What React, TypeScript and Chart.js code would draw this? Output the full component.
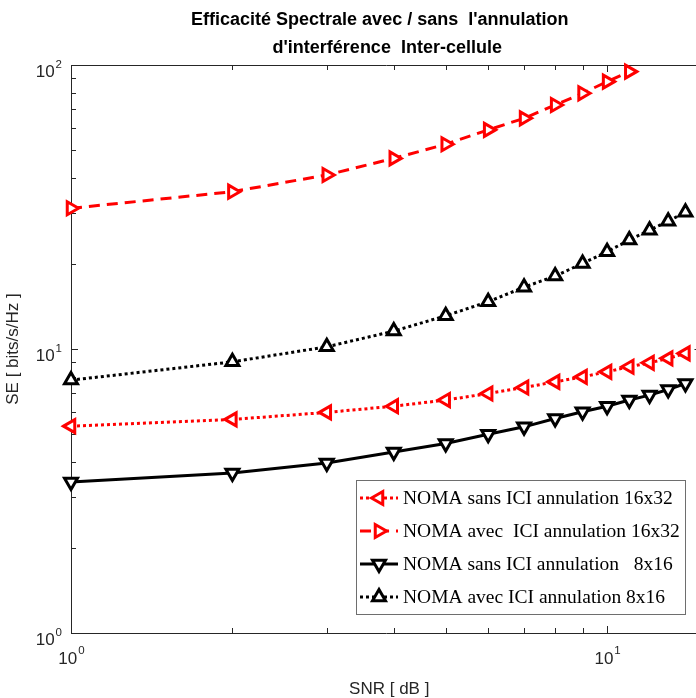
import React, { useEffect, useRef } from "react";
import { Chart, registerables } from "chart.js";
Chart.register(...registerables);

// ---------- data ----------
const snrFull = [1, 2, 3, 4, 5, 6, 7, 8, 9, 10, 11, 12, 13, 14];
const snrShort = [1, 2, 3, 4, 5, 6, 7, 8, 9, 10, 11];
const seSans16x32 = [5.35, 5.65, 5.98, 6.29, 6.61, 6.97, 7.32, 7.66, 7.98, 8.31, 8.66, 8.94, 9.27, 9.65];
const seAvec16x32 = [31.3, 35.8, 41.0, 46.9, 52.6, 59.1, 64.9, 72.3, 79.5, 87.4, 94.8];
const seSans8x16 = [3.4, 3.66, 3.97, 4.34, 4.65, 5.01, 5.32, 5.69, 6.01, 6.29, 6.61, 6.88, 7.2, 7.56];
const seAvec8x16 = [7.77, 9.01, 10.18, 11.56, 13.09, 14.67, 16.5, 18.07, 20.02, 22.0, 24.2, 26.2, 28.2, 30.3];

const seriesLabels = [
  "NOMA sans ICI annulation 16x32",
  "NOMA avec  ICI annulation 16x32",
  "NOMA sans ICI annulation   8x16",
  "NOMA avec ICI annulation 8x16",
];
const titleLines = ["Efficacité Spectrale avec / sans  l'annulation   ", "d'interférence  Inter-cellule"];
const xTitle = "SNR [ dB ]";
const yTitle = "SE [ bits/s/Hz ]";
const xMin = 1;
const xMax = 15;
const yMin = 1;
const yMax = 100;
const xMinorTicks = [2, 3, 4, 5, 6, 7, 8, 9];
const xMajorTicks = [1, 10];
const xMajorExp = ["0", "1"];
const yMinorTicks = [2, 3, 4, 5, 6, 7, 8, 9, 20, 30, 40, 50, 60, 70, 80, 90];
const yMajorTicks = [1, 10, 100];
const yMajorExp = ["0", "1", "2"];

const zip = (xs: number[], ys: number[]) => ys.map((y, i) => ({ x: xs[i], y }));

const AXIS = "#262626";

function drawTri(ctx: CanvasRenderingContext2D, x: number, y: number, r: number, rotDeg: number) {
  let rad = (rotDeg * Math.PI) / 180;
  const step = (2 * Math.PI) / 3;
  ctx.beginPath();
  ctx.moveTo(x + Math.sin(rad) * r, y - Math.cos(rad) * r);
  rad += step;
  ctx.lineTo(x + Math.sin(rad) * r, y - Math.cos(rad) * r);
  rad += step;
  ctx.lineTo(x + Math.sin(rad) * r, y - Math.cos(rad) * r);
  ctx.closePath();
}

const axesPlugin = {
  id: "matlabAxes",
  beforeDatasetsDraw(chart: any) {
    const { ctx, chartArea } = chart;
    const xs = chart.scales.x;
    const ys = chart.scales.y;
    const { left, top, bottom, right } = chartArea;
    ctx.save();
    ctx.strokeStyle = AXIS;
    ctx.lineWidth = 1;
    ctx.beginPath();
    ctx.moveTo(left + 0.5, top + 0.5);
    ctx.lineTo(right, top + 0.5);
    ctx.moveTo(left + 0.5, top);
    ctx.lineTo(left + 0.5, bottom + 0.5);
    ctx.lineTo(right, bottom + 0.5);
    ctx.lineTo(right, top);
    const tick = (v: number, len: number) => {
      const px = Math.round(xs.getPixelForValue(v)) + 0.5;
      ctx.moveTo(px, bottom);
      ctx.lineTo(px, bottom - len);
      ctx.moveTo(px, top);
      ctx.lineTo(px, top + len);
    };
    xMinorTicks.forEach((v) => tick(v, 5));
    xMajorTicks.forEach((v) => tick(v, 7));
    const ytick = (v: number, len: number) => {
      const py = Math.round(ys.getPixelForValue(v)) + 0.5;
      ctx.moveTo(left, py);
      ctx.lineTo(left + len, py);
      ctx.moveTo(right, py);
      ctx.lineTo(right - len, py);
    };
    yMinorTicks.forEach((v) => ytick(v, 5));
    yMajorTicks.forEach((v) => ytick(v, 7));
    ctx.stroke();
    ctx.restore();
  },
  afterDraw(chart: any) {
    const { ctx, chartArea } = chart;
    const xs = chart.scales.x;
    const ys = chart.scales.y;
    const { left, top, bottom, right } = chartArea;
    ctx.save();
    ctx.fillStyle = AXIS;
    ctx.textBaseline = "alphabetic";
    const base = "17px 'Liberation Sans', Arial, sans-serif";
    const sup = "11.5px 'Liberation Sans', Arial, sans-serif";
    // x tick labels
    xMajorTicks.forEach((v, i) => {
      const px = xs.getPixelForValue(v);
      ctx.font = base;
      const w1 = ctx.measureText("10").width;
      ctx.font = sup;
      const w2 = ctx.measureText(xMajorExp[i]).width;
      const x0 = px - (w1 + w2) / 2;
      ctx.font = base;
      ctx.textAlign = "left";
      ctx.fillText("10", x0, bottom + 31);
      ctx.font = sup;
      ctx.fillText(xMajorExp[i], x0 + w1 + 1, bottom + 21);
    });
    // y tick labels
    yMajorTicks.forEach((v, i) => {
      const py = ys.getPixelForValue(v);
      ctx.font = sup;
      const w2 = ctx.measureText(yMajorExp[i]).width;
      const xr = left - 9;
      ctx.textAlign = "left";
      ctx.fillText(yMajorExp[i], xr - w2, py + 3);
      ctx.font = base;
      ctx.textAlign = "right";
      ctx.fillText("10", xr - w2 - 1, py + 12);
    });
    // axis titles
    ctx.font = "17px 'Liberation Sans', Arial, sans-serif";
    ctx.textAlign = "center";
    ctx.fillText(xTitle, (left + right) / 2 + 3, 694);
    ctx.save();
    ctx.translate(18, (top + bottom) / 2);
    ctx.rotate(-Math.PI / 2);
    ctx.fillText(yTitle, 0, 0);
    ctx.restore();
    // title
    ctx.fillStyle = "#000";
    ctx.font = "bold 18px 'Liberation Sans', Arial, sans-serif";
    ctx.textAlign = "center";
    const cx = (left + right) / 2 + 1;
    ctx.fillText(titleLines[0], cx, 25);
    ctx.fillText(titleLines[1], cx, 52.5);

    // legend
    const bx = 356.5, by = 480.5, bw = 329, bh = 134;
    ctx.fillStyle = "#fff";
    ctx.fillRect(bx, by, bw, bh);
    ctx.strokeStyle = "#6e6e6e";
    ctx.lineWidth = 1;
    ctx.strokeRect(bx, by, bw, bh);
    const rows = [498, 531, 564, 597];
    chart.data.datasets.forEach((ds: any, i: number) => {
      const y = rows[i];
      ctx.save();
      ctx.strokeStyle = ds.borderColor;
      ctx.lineWidth = ds.borderWidth;
      ctx.setLineDash(ds.borderDash || []);
      ctx.beginPath();
      ctx.moveTo(360, y);
      ctx.lineTo(398, y);
      ctx.stroke();
      ctx.setLineDash([]);
      ctx.lineWidth = ds.pointBorderWidth;
      drawTri(ctx, 379, y, ds.pointRadius, ds.pointRotation);
      ctx.fillStyle = "#fff";
      ctx.fill();
      ctx.stroke();
      ctx.restore();
      ctx.fillStyle = "#000";
      ctx.font = "19.5px 'Liberation Serif', 'Times New Roman', serif";
      ctx.textAlign = "left";
      ctx.textBaseline = "middle";
      ctx.fillText(seriesLabels[i], 403, y + 1);
    });
    ctx.restore();
  },
};

export default function App() {
  const ref = useRef<HTMLCanvasElement | null>(null);
  useEffect(() => {
    if (!ref.current) return;
    const common = {
      borderWidth: 3,
      pointStyle: "triangle",
      pointRadius: 7.5,
      pointBorderWidth: 3,
      pointBackgroundColor: "#fff",
      tension: 0,
      clip: false as any,
      fill: false,
    };
    const chart = new Chart(ref.current, {
      type: "line",
      data: {
        datasets: [
          {
            ...common,
            label: seriesLabels[0],
            data: zip(snrFull, seSans16x32),
            borderColor: "#ff0000",
            pointBorderColor: "#ff0000",
            borderDash: [3, 3],
            pointRotation: -90,
          },
          {
            ...common,
            label: seriesLabels[1],
            data: zip(snrShort, seAvec16x32),
            borderColor: "#ff0000",
            pointBorderColor: "#ff0000",
            borderDash: [11, 7],
            pointRotation: 90,
          },
          {
            ...common,
            label: seriesLabels[2],
            data: zip(snrFull, seSans8x16),
            borderColor: "#000000",
            pointBorderColor: "#000000",
            borderDash: [],
            pointRotation: 180,
          },
          {
            ...common,
            label: seriesLabels[3],
            data: zip(snrFull, seAvec8x16),
            borderColor: "#000000",
            pointBorderColor: "#000000",
            borderDash: [3, 3],
            pointRotation: 0,
          },
        ] as any,
      },
      options: {
        animation: false,
        responsive: false,
        maintainAspectRatio: false,
        devicePixelRatio: 1,
        layout: { padding: { left: 71, right: 7, top: 65, bottom: 65 } },
        plugins: { legend: { display: false }, title: { display: false }, tooltip: { enabled: false } },
        scales: {
          x: { type: "logarithmic", min: xMin, max: xMax, display: false },
          y: { type: "logarithmic", min: yMin, max: yMax, display: false },
        },
      },
      plugins: [axesPlugin as any],
    });
    return () => chart.destroy();
  }, []);
  return (
    <div style={{ position: "absolute", left: 0, top: 0, width: 696, height: 698, overflow: "hidden", background: "#fff" }}>
      <canvas ref={ref} width={712} height={698} style={{ display: "block", width: 712, height: 698 }} />
    </div>
  );
}
